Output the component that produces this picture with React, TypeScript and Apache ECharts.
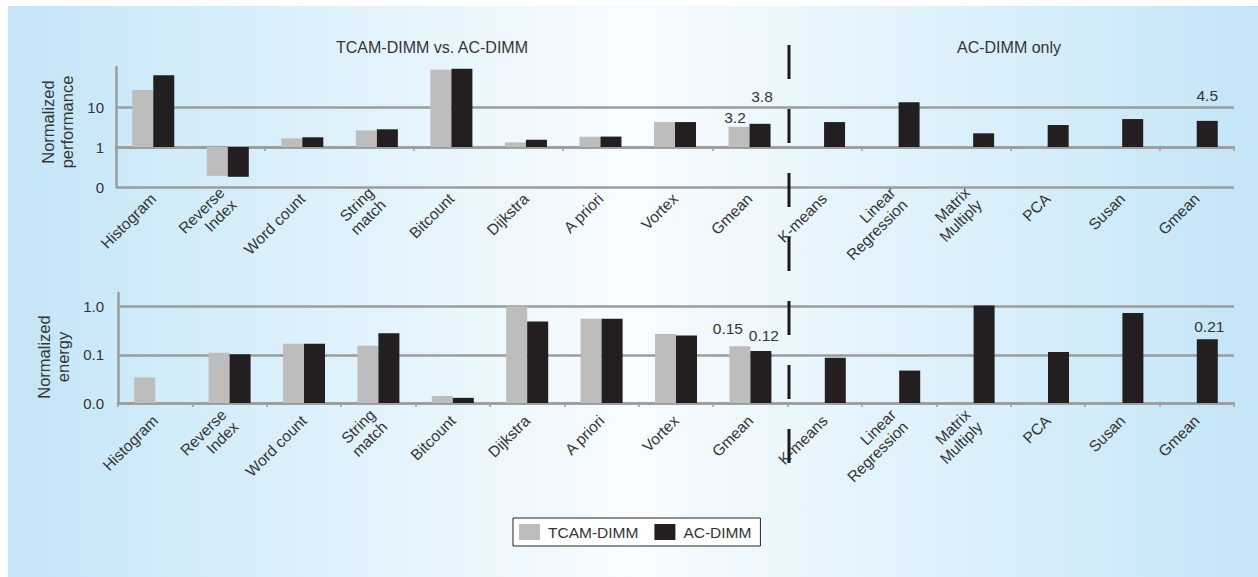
import React, { useEffect, useRef } from "react";
import * as echarts from "echarts";

const categories = [
  "Histogram",
  "Reverse\nIndex",
  "Word count",
  "String\nmatch",
  "Bitcount",
  "Dijkstra",
  "A priori",
  "Vortex",
  "Gmean",
  "K-means",
  "Linear\nRegression",
  "Matrix\nMultiply",
  "PCA",
  "Susan",
  "Gmean",
];

const seriesNames = ["TCAM-DIMM", "AC-DIMM"];

// Normalized performance (log scale; "0" tick = 0.1)
const tcamPerf = [26.6, 0.19, 1.65, 2.6, 85, 1.3, 1.81, 4.2, 3.2, null, null, null, null, null, null];
const acPerf = [62, 0.18, 1.75, 2.77, 91, 1.52, 1.82, 4.2, 3.8, 4.2, 13.1, 2.2, 3.55, 5.0, 4.5];

// Normalized energy (log scale; "0.0" tick = 0.01)
const tcamEnergy = [0.034, 0.11, 0.17, 0.154, 0.014, 1.0, 0.556, 0.27, 0.15, null, null, null, null, null, null];
const acEnergy = [null, 0.103, 0.17, 0.28, 0.0128, 0.49, 0.556, 0.25, 0.12, 0.087, 0.047, 1.05, 0.114, 0.73, 0.21];

const perfTickLabels: Record<string, string> = { "-1": "0", "0": "1", "1": "10" };
const energyTickLabels: Record<string, string> = { "0": "0.0", "1": "0.1", "2": "1.0" };

// value labels: [series, index, text, offsetX, offsetY]
const perfLabels: [number, number, string, number, number][] = [
  [0, 8, "3.2", -4, 4],
  [1, 8, "3.8", 2, -14],
  [1, 14, "4.5", 0, -12],
];
const energyLabels: [number, number, string, number, number][] = [
  [0, 8, "0.15", -12, -5],
  [1, 8, "0.12", 3, -2],
  [1, 14, "0.21", 2, 0],
];

const FONT = "'Liberation Sans', Arial, Helvetica, sans-serif";
const TEXT = "#353535";
const GRID = "#9c9c9c";
const GRAY = "#bdbdbd";
const BLACK = "#231f20";

function buildData(
  values: (number | null)[],
  seriesIdx: number,
  shift: number,
  labels: [number, number, string, number, number][]
) {
  return values.map((v, i) => {
    const value = v == null ? null : Math.log10(v) + shift;
    const lab = labels.find((l) => l[0] === seriesIdx && l[1] === i);
    if (!lab) return value;
    return {
      value,
      label: {
        show: true,
        position: "top",
        formatter: lab[2],
        offset: [lab[3], lab[4]],
        fontSize: 15.5,
        color: TEXT,
        fontFamily: FONT,
      },
    };
  });
}

export default function App() {
  const ref = useRef<HTMLDivElement>(null);

  useEffect(() => {
    if (!ref.current) return;
    const chart = echarts.init(ref.current, null, { renderer: "svg" });

    const catLabel = {
      rotate: 45,
      fontSize: 15.5,
      color: TEXT,
      fontFamily: FONT,
      interval: 0,
      lineHeight: 17,
    };

    const option: any = {
      animation: false,
      textStyle: { fontFamily: FONT },
      legend: {
        data: seriesNames,
        left: 513,
        top: 518,
        icon: "rect",
        itemWidth: 21,
        itemHeight: 16,
        itemGap: 16,
        padding: [6, 9, 6, 6],
        backgroundColor: "#ffffff",
        borderColor: "#222",
        borderWidth: 1,
        borderRadius: 0,
        textStyle: { fontSize: 15.5, color: TEXT, fontFamily: FONT, padding: [0, 0, 0, 3] },
      },
      grid: [
        { left: 116, right: 24, top: 67, height: 120 },
        { left: 118, right: 24, top: 293, height: 110 },
      ],
      xAxis: [
        {
          type: "category",
          gridIndex: 0,
          data: categories,
          axisLine: { onZero: true, lineStyle: { color: GRID, width: 2.5 } },
          axisTick: { show: true, length: 4, lineStyle: { color: GRID, width: 1.5 } },
          axisLabel: { show: false },
          splitLine: { show: false },
        },
        {
          type: "category",
          gridIndex: 0,
          position: "bottom",
          data: categories,
          axisLine: { show: false, onZero: false },
          axisTick: { show: false },
          axisLabel: { ...catLabel, margin: 9 },
          splitLine: { show: false },
        },
        {
          type: "category",
          gridIndex: 1,
          data: categories,
          axisLine: { onZero: false, lineStyle: { color: GRID, width: 2.5 } },
          axisTick: { show: true, length: 4, lineStyle: { color: GRID, width: 1.5 } },
          axisLabel: { ...catLabel, margin: 15 },
          splitLine: { show: false },
        },
      ],
      yAxis: [
        {
          type: "value",
          gridIndex: 0,
          min: -1,
          max: 2,
          interval: 1,
          name: "Normalized\nperformance",
          nameLocation: "middle",
          nameRotate: 90,
          nameGap: 37,
          nameTextStyle: {
            fontSize: 16.5,
            lineHeight: 19,
            color: TEXT,
            fontFamily: FONT,
            padding: [0, 0, 0, 10],
          },
          axisLine: { show: true, lineStyle: { color: GRID, width: 2.5 } },
          axisTick: { show: false },
          axisLabel: {
            margin: 12,
            fontSize: 15,
            color: TEXT,
            fontFamily: FONT,
            showMaxLabel: false,
            formatter: (v: number) => perfTickLabels[String(Math.round(v))] ?? "",
          },
          splitLine: { show: true, showMaxLine: false, lineStyle: { color: GRID, width: 2.5 } },
        },
        {
          type: "value",
          gridIndex: 1,
          min: 0,
          max: 2.28,
          interval: 1,
          name: "Normalized\nenergy",
          nameLocation: "middle",
          nameRotate: 90,
          nameGap: 40,
          nameTextStyle: {
            fontSize: 16.5,
            lineHeight: 19,
            color: TEXT,
            fontFamily: FONT,
            padding: [0, 18, 0, 0],
          },
          axisLine: { show: true, lineStyle: { color: GRID, width: 2.5 } },
          axisTick: { show: false },
          axisLabel: {
            margin: 14,
            fontSize: 15,
            color: TEXT,
            fontFamily: FONT,
            showMaxLabel: false,
            formatter: (v: number) =>
              Math.abs(v - Math.round(v)) < 1e-6 ? energyTickLabels[String(Math.round(v))] ?? "" : "",
          },
          splitLine: { show: true, showMaxLine: false, lineStyle: { color: GRID, width: 2.5 } },
        },
      ],
      series: [
        {
          name: seriesNames[0],
          type: "bar",
          xAxisIndex: 0,
          yAxisIndex: 0,
          barWidth: 21,
          barGap: "0%",
          itemStyle: { color: GRAY },
          data: buildData(tcamPerf, 0, 0, perfLabels),
        },
        {
          name: seriesNames[1],
          type: "bar",
          xAxisIndex: 0,
          yAxisIndex: 0,
          barWidth: 21,
          barGap: "0%",
          itemStyle: { color: BLACK },
          data: buildData(acPerf, 1, 0, perfLabels),
        },
        {
          name: seriesNames[0],
          type: "bar",
          xAxisIndex: 2,
          yAxisIndex: 1,
          barWidth: 21,
          barGap: "0%",
          itemStyle: { color: GRAY },
          data: buildData(tcamEnergy, 0, 2, energyLabels),
        },
        {
          name: seriesNames[1],
          type: "bar",
          xAxisIndex: 2,
          yAxisIndex: 1,
          barWidth: 21,
          barGap: "0%",
          itemStyle: { color: BLACK },
          data: buildData(acEnergy, 1, 2, energyLabels),
        },
      ],
      graphic: [
        {
          type: "text",
          x: 432,
          y: 47,
          style: {
            text: "TCAM-DIMM vs. AC-DIMM",
            textAlign: "center",
            textVerticalAlign: "middle",
            fontSize: 16,
            fill: TEXT,
            fontFamily: FONT,
          },
        },
        {
          type: "text",
          x: 1009,
          y: 47,
          style: {
            text: "AC-DIMM only",
            textAlign: "center",
            textVerticalAlign: "middle",
            fontSize: 16,
            fill: TEXT,
            fontFamily: FONT,
          },
        },
        {
          type: "line",
          shape: { x1: 789, y1: 45, x2: 789, y2: 463 },
          style: { stroke: "#1a1a1a", lineWidth: 3, lineDash: [34, 30] },
          z: 10,
        },
      ],
    };

    chart.setOption(option);
    return () => chart.dispose();
  }, []);

  return (
    <div style={{ position: "fixed", left: 0, top: 0, width: 1258, height: 577, background: "#ffffff" }}>
      <div
        style={{
          position: "absolute",
          left: 8,
          top: 6,
          right: 0,
          bottom: 0,
          background: "linear-gradient(to right, #c3e5f7 0%, #f8fcff 50%, #c3e5f7 100%)",
        }}
      />
      <div ref={ref} style={{ position: "absolute", left: 0, top: 0, width: 1258, height: 577 }} />
    </div>
  );
}
